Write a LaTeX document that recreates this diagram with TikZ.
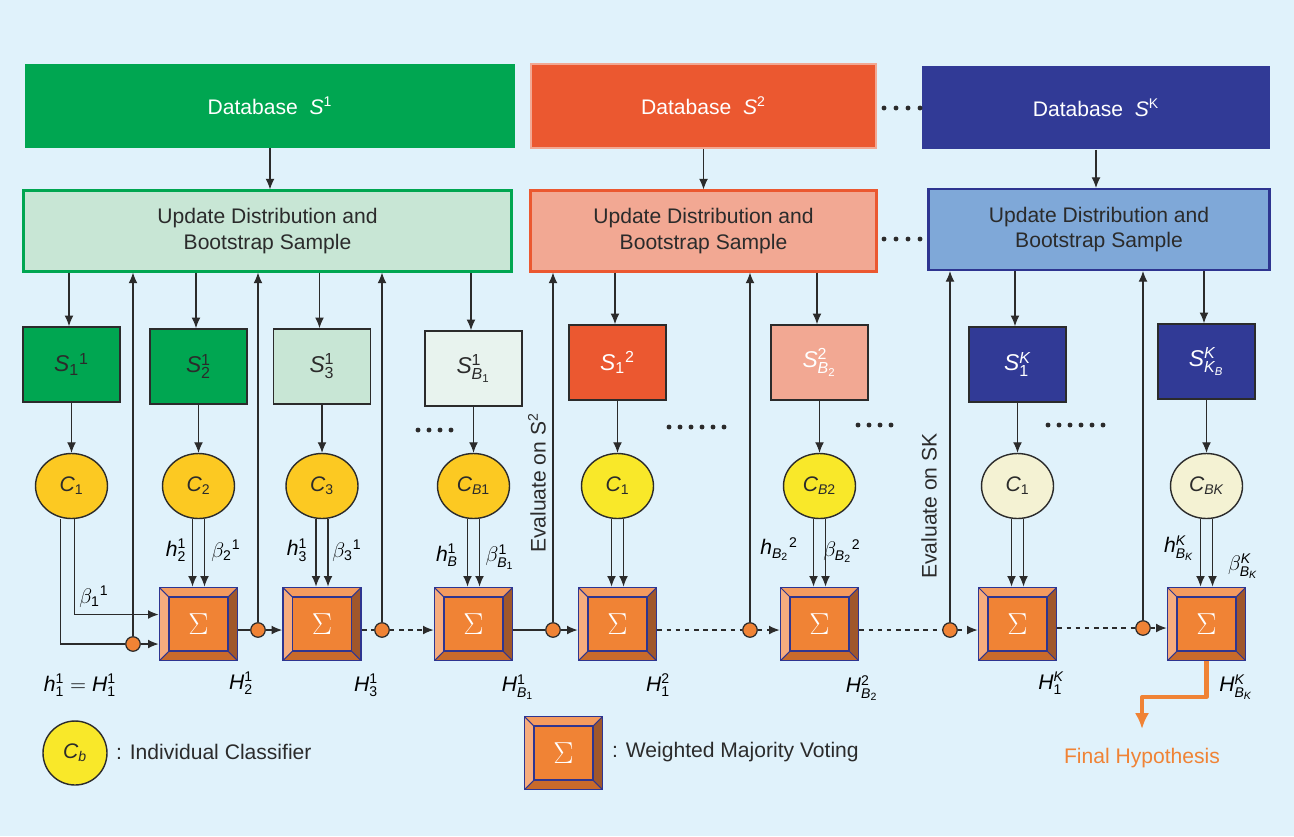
\documentclass[tikz,border=0pt]{standalone}
\usepackage{fontspec}
\setmainfont{Liberation Sans}
\usetikzlibrary{calc}
\usetikzlibrary{positioning}
\usetikzlibrary{shapes.geometric}
\usetikzlibrary{arrows.meta}

\DeclareSymbolFont{sfdig}{TU}{\rmdefault}{m}{n}
\AtBeginDocument{%
	\DeclareMathSymbol{0}{\mathalpha}{sfdig}{`0}%
	\DeclareMathSymbol{1}{\mathalpha}{sfdig}{`1}%
	\DeclareMathSymbol{2}{\mathalpha}{sfdig}{`2}%
	\DeclareMathSymbol{3}{\mathalpha}{sfdig}{`3}%
}

\definecolor{bgblue}{HTML}{E0F2FB}
\definecolor{dbgreen}{HTML}{00A651}
\definecolor{ltgreen}{HTML}{C8E6D5}
\definecolor{palegreen}{HTML}{E8F3EE}
\definecolor{dbred}{HTML}{EB5830}
\definecolor{salmon}{HTML}{F2A893}
\definecolor{dbblue}{HTML}{313A96}
\definecolor{midblue}{HTML}{7FA8D8}
\definecolor{clforange}{HTML}{FCC922}
\definecolor{clfyellow}{HTML}{F9E829}
\definecolor{clfcream}{HTML}{F4F2D3}
\definecolor{sigor}{HTML}{F08335}
\definecolor{sigtop}{HTML}{F49B5F}
\definecolor{sigleft}{HTML}{F6AC7E}
\definecolor{sigright}{HTML}{A0572B}
\definecolor{sigbottom}{HTML}{C86A2B}
\definecolor{sigblue}{HTML}{2E3590}
\definecolor{linegray}{HTML}{2B2B2B}

\newcommand{\iv}[1]{\mathit{#1}}

\tikzset{
	dbbox/.style={rectangle, minimum height=1.68cm, inner sep=0pt, text=white},
	updbox/.style={rectangle, draw, line width=1.2pt, minimum height=1.62cm, align=center, text=linegray},
	smpbox/.style={rectangle, draw=linegray, line width=1pt, minimum width=1.94cm, minimum height=1.5cm, text=linegray,
		font=\fontsize{13}{15}\selectfont},
	clf/.style={ellipse, draw=linegray, line width=0.8pt, minimum width=1.44cm, minimum height=1.3cm, inner sep=0pt, text=linegray},
	vote/.style={rectangle, draw=sigblue, line width=1.1pt, minimum width=1.56cm, minimum height=1.46cm, inner sep=0pt,
		text=white, font=\fontsize{18}{18}\selectfont,
		path picture={
			\path (path picture bounding box.north west) coordinate (bvA)
				(path picture bounding box.north east) coordinate (bvB)
				(path picture bounding box.south east) coordinate (bvC)
				(path picture bounding box.south west) coordinate (bvD)
				([shift={(0.19cm,-0.19cm)}]bvA) coordinate (bva)
				([shift={(-0.19cm,-0.19cm)}]bvB) coordinate (bvb)
				([shift={(-0.19cm,0.19cm)}]bvC) coordinate (bvc)
				([shift={(0.19cm,0.19cm)}]bvD) coordinate (bvd);
			\fill[sigtop] (bvA) -- (bvB) -- (bvb) -- (bva) -- cycle;
			\fill[sigleft] (bvA) -- (bva) -- (bvd) -- (bvD) -- cycle;
			\fill[sigright] (bvB) -- (bvC) -- (bvc) -- (bvb) -- cycle;
			\fill[sigbottom] (bvD) -- (bvd) -- (bvc) -- (bvC) -- cycle;
			\draw[sigblue, line width=0.6pt] (bvA) -- (bva) (bvB) -- (bvb) (bvC) -- (bvc) (bvD) -- (bvd);
			\draw[sigblue, line width=1pt, fill=sigor] (bva) rectangle (bvc);
		}},
	jnc/.style={circle, draw=linegray, line width=0.7pt, fill=sigor, minimum size=0.29cm, inner sep=0pt},
	arr/.style={-{Latex[length=6pt,width=5pt]}, draw=linegray, line width=0.6pt},
	dsh/.style={dash pattern=on 2.6pt off 2.6pt},
	fin/.style={-{Latex[length=9pt,width=8pt]}, draw=sigor, line width=2.3pt, line join=round}
}

\begin{document}
\begin{tikzpicture}[x=0.02cm, y=-0.02cm, font=\fontsize{12}{14.6}\selectfont]
	\fill[bgblue] (0,0) rectangle (1294,836);

	\node[dbbox, fill=dbgreen, minimum width=9.8cm] (db1) at (270,106) {Database\ \ $\iv{S}^1$};
	\node[dbbox, fill=dbred, draw=salmon, line width=1.2pt, minimum width=6.9cm] (db2) at (703.5,106) {Database\ \ $\iv{S}^2$};
	\node[dbbox, fill=dbblue, minimum width=6.96cm] (dbK) at (1096,107.5) {Database\ \ $\iv{S}^{\mathrm{K}}$};

	\node[updbox, fill=ltgreen, draw=dbgreen, minimum width=9.76cm] (upd1) at (267.5,231) {Update Distribution and\\Bootstrap Sample};
	\node[updbox, fill=salmon, draw=dbred, minimum width=6.92cm] (upd2) at (703.5,231) {Update Distribution and\\Bootstrap Sample};
	\node[updbox, fill=midblue, draw=sigblue, minimum width=6.82cm] (updK) at (1099,229.5) {Update Distribution and\\Bootstrap Sample};

	\node[smpbox, fill=dbgreen] (s11) at (71.5,364.5) {$\iv{S}_1{}^1$};
	\node[smpbox, fill=dbgreen] (s21) at (198.5,366.5) {$\iv{S}^1_2$};
	\node[smpbox, fill=ltgreen] (s31) at (322,366.5) {$\iv{S}^1_3$};
	\node[smpbox, fill=palegreen] (sB1) at (473.5,368.5) {$\iv{S}^1_{\iv{B}_1}$};
	\node[smpbox, fill=dbred, text=white] (s12) at (617.5,362.5) {$\iv{S}_1{}^2$};
	\node[smpbox, fill=salmon, text=white] (sB2) at (819.5,362.5) {$\iv{S}^2_{\iv{B}_2}$};
	\node[smpbox, fill=dbblue, text=white] (s1K) at (1017.5,364.5) {$\iv{S}^{\iv{K}}_1$};
	\node[smpbox, fill=dbblue, text=white] (sKB) at (1206.5,361.5) {$\iv{S}^{\iv{K}}_{\iv{K}_{\iv{B}}}$};

	\node[clf, fill=clforange] (c1) at (71.5,486) {$\iv{C}_1$};
	\node[clf, fill=clforange] (c2) at (198.5,486) {$\iv{C}_2$};
	\node[clf, fill=clforange] (c3) at (322,486) {$\iv{C}_3$};
	\node[clf, fill=clforange] (cB1) at (473.5,486) {$\iv{C}_{\iv{B}1}$};
	\node[clf, fill=clfyellow] (c21) at (617.5,486) {$\iv{C}_1$};
	\node[clf, fill=clfyellow] (cB2) at (819.5,486) {$\iv{C}_{\iv{B}2}$};
	\node[clf, fill=clfcream] (cK1) at (1017.5,486) {$\iv{C}_1$};
	\node[clf, fill=clfcream] (cBK) at (1206.5,486) {$\iv{C}_{\iv{BK}}$};

	\node[vote] (v1) at (198.5,624) {$\Sigma$};
	\node[vote] (v2) at (322,624) {$\Sigma$};
	\node[vote] (v3) at (473.5,624) {$\Sigma$};
	\node[vote] (v4) at (617.5,624) {$\Sigma$};
	\node[vote] (v5) at (819.5,624) {$\Sigma$};
	\node[vote] (v6) at (1017.5,624) {$\Sigma$};
	\node[vote] (v7) at (1206.5,624) {$\Sigma$};

	\node[jnc] (j1) at (133,644) {};
	\node[jnc] (j2) at (258,630) {};
	\node[jnc] (j3) at (382,630) {};
	\node[jnc] (j4) at (553,630) {};
	\node[jnc] (j5) at (750,630) {};
	\node[jnc] (j6) at (950,630) {};
	\node[jnc] (j7) at (1143,628) {};

	\draw[arr] (db1.south) -- (db1.south |- upd1.north);
	\draw[arr] (db2.south) -- (db2.south |- upd2.north);
	\draw[arr] (dbK.south) -- (dbK.south |- updK.north);

	\foreach \s/\u in {s11/upd1, s21/upd1, s31/upd1, sB1/upd1, s12/upd2, sB2/upd2, s1K/updK, sKB/updK}
		\draw[arr] ([xshift=-0.05cm]\s.north |- \u.south) -- ([xshift=-0.05cm]\s.north);
	\foreach \s/\c in {s11/c1, s21/c2, s31/c3, sB1/cB1, s12/c21, sB2/cB2, s1K/cK1, sKB/cBK}
		\draw[arr] (\s.south) -- (\c.north);
	\foreach \c/\v in {c2/v1, c3/v2, cB1/v3, c21/v4, cB2/v5, cK1/v6, cBK/v7} {
		\path ([xshift=-0.12cm]\c.south) coordinate (hl) ([xshift=0.12cm]\c.south) coordinate (hr);
		\draw[arr] (hl) -- (hl |- \v.north);
		\draw[arr] (hr) -- (hr |- \v.north);
	}

	\path ([xshift=-0.22cm]c1.south) coordinate (c1l) ([xshift=0.06cm]c1.south) coordinate (c1r) ([yshift=0.19cm]v1.west) coordinate (v1in);
	\draw[linegray, line width=0.6pt] (c1l) |- (j1);
	\draw[arr] (j1) -- (v1.west |- j1);
	\draw[arr] (c1r) |- (v1in);

	\draw[linegray, line width=0.6pt] (v1.east |- j2) -- (j2);
	\draw[arr] (j2) -- (v2.west |- j2);
	\draw[linegray, line width=0.6pt, dsh] (v2.east |- j3) -- (j3);
	\draw[arr, dsh] (j3) -- (v3.west |- j3);
	\draw[linegray, line width=0.6pt] (v3.east |- j4) -- (j4);
	\draw[arr] (j4) -- (v4.west |- j4);
	\draw[linegray, line width=0.6pt, dsh] (v4.east |- j5) -- (j5);
	\draw[arr, dsh] (j5) -- (v5.west |- j5);
	\draw[linegray, line width=0.6pt, dsh] (v5.east |- j6) -- (j6);
	\draw[arr, dsh] (j6) -- (v6.west |- j6);
	\draw[linegray, line width=0.6pt, dsh] (v6.east |- j7) -- (j7);
	\draw[arr, dsh] (j7) -- (v7.west |- j7);

	\foreach \j/\u in {j1/upd1, j2/upd1, j3/upd1, j4/upd2, j5/upd2, j6/updK, j7/updK}
		\draw[arr] (\j) -- (\j |- \u.south);

	\node[rotate=90, text=linegray] (ev2) at (537,483) {Evaluate on S\textsuperscript{2}};
	\node[rotate=90, text=linegray] (evK) at (929,506) {Evaluate on SK};

	\node (lb1) at (94,597) {$\beta_1{}^1$};
	\node (lh1) at (80,685) {$\iv{h}^1_1 = \iv{H}^1_1$};
	\node (lh2) at (176,550) {$\iv{h}^1_2$};
	\node (lb2) at (226,551) {$\beta_2{}^1$};
	\node (lh3) at (297,550) {$\iv{h}^1_3$};
	\node (lb3) at (347,551) {$\beta_3{}^1$};
	\node (lhB1) at (447,555) {$\iv{h}^1_{\iv{B}}$};
	\node (lbB1) at (500,557) {$\beta^1_{\iv{B}_1}$};
	\node (lhB2) at (779,549) {$\iv{h}_{\iv{B}_2}{}^2$};
	\node (lbB2) at (842,551) {$\beta_{\iv{B}_2}{}^2$};
	\node (lhBK) at (1179,548) {$\iv{h}^{\iv{K}}_{\iv{B}_{\iv{K}}}$};
	\node (lbBK) at (1243,566) {$\beta^{\iv{K}}_{\iv{B}_{\iv{K}}}$};
	\node (lH2) at (241,683) {$\iv{H}^1_2$};
	\node (lH3) at (366,685) {$\iv{H}^1_3$};
	\node (lHB1) at (518,687) {$\iv{H}^1_{\iv{B}_1}$};
	\node (lH12) at (658,685) {$\iv{H}^2_1$};
	\node (lHB2) at (862,688) {$\iv{H}^2_{\iv{B}_2}$};
	\node (lH1K) at (1051,683) {$\iv{H}^{\iv{K}}_1$};
	\node (lHBK) at (1236,687) {$\iv{H}^{\iv{K}}_{\iv{B}_{\iv{K}}}$};

	\foreach \x in {884,896,...,920} {
		\fill[linegray] (\x,108) circle (1.4pt);
		\fill[linegray] (\x,239) circle (1.4pt);
	}
	\foreach \x in {418,429,...,451} \fill[linegray] (\x,430) circle (1.4pt);
	\foreach \x in {669,680,...,724} \fill[linegray] (\x,427) circle (1.4pt);
	\foreach \x in {858,869,...,891} \fill[linegray] (\x,425) circle (1.4pt);
	\foreach \x in {1048,1059,...,1103} \fill[linegray] (\x,425) circle (1.4pt);

	\coordinate (fhbend) at (1142,697);
	\coordinate (fhend) at (1142,729);
	\draw[fin] (v7.south) |- (fhbend) -- (fhend);
	\node[text=sigor] (fh) at (1142,758) {Final Hypothesis};

	\node[clf, fill=clfyellow, minimum width=1.28cm, minimum height=1.28cm] (lgc) at (75,753) {$\iv{C}_{\iv{b}}$};
	\node[anchor=west, text=linegray] (lgct) at (110,752) {: Individual Classifier};
	\node[vote] (lgv) at (563.5,753) {$\Sigma$};
	\node[anchor=west, text=linegray] (lgvt) at (606,752) {: Weighted Majority Voting};
\end{tikzpicture}
\end{document}
